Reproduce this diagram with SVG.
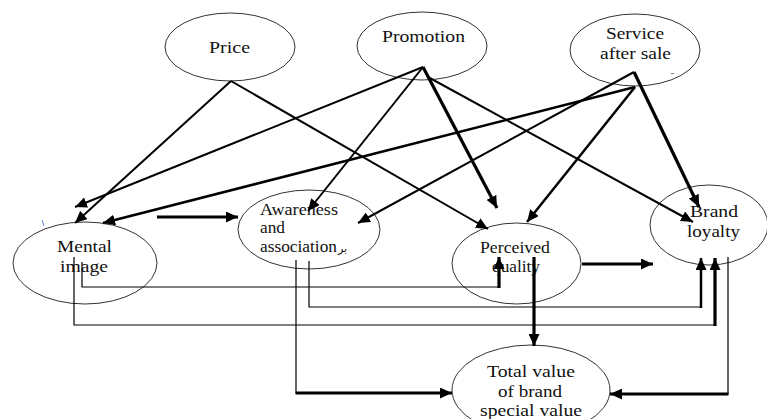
<svg xmlns="http://www.w3.org/2000/svg" width="767" height="419" viewBox="0 0 767 419">
<style>
.node ellipse{fill:#fff;stroke:#333;stroke-width:1}
.node text{font-family:"Liberation Serif","Times New Roman",serif;font-size:17px;fill:#111}
.c{fill:none;stroke:#000;stroke-linecap:butt;stroke-linejoin:miter}
.w2{stroke-width:2}
.w25{stroke-width:2.5}
.w3{stroke-width:3.2}
.w1{stroke-width:1.2}
.arr{marker-end:url(#ah)}
</style>
<defs>
<marker id="ah" markerUnits="userSpaceOnUse" markerWidth="13" markerHeight="11" refX="12" refY="5.5" orient="auto">
<path d="M0,0 L12,5.5 L0,11 z" fill="#000"/>
</marker>
</defs>
<rect width="767" height="419" fill="#fff"/>
<g id="price" class="node">
<ellipse cx="230" cy="47" rx="65" ry="34"/>
<text x="209" y="53" textLength="41" lengthAdjust="spacingAndGlyphs">Price</text>
</g>
<g id="promotion" class="node">
<ellipse cx="422" cy="46" rx="65" ry="34"/>
<text x="382" y="42" textLength="83" lengthAdjust="spacingAndGlyphs">Promotion</text>
</g>
<g id="service" class="node">
<ellipse cx="635" cy="50" rx="65" ry="36"/>
<text x="606" y="39" textLength="58" lengthAdjust="spacingAndGlyphs">Service</text>
<text x="600" y="59" textLength="71" lengthAdjust="spacingAndGlyphs">after sale</text>
<text x="671" y="74" style="font-size:7px">ـ.</text>
</g>
<g id="mental" class="node">
<ellipse cx="85" cy="263" rx="72" ry="41"/>
<text x="57" y="252" textLength="55" lengthAdjust="spacingAndGlyphs">Mental</text>
<text x="60" y="272" textLength="48" lengthAdjust="spacingAndGlyphs">image</text>
<path d="M42,220 q1,3 2,6" fill="none" stroke="#5b86d6" stroke-width="1"/>
</g>
<g id="awareness" class="node">
<ellipse cx="309" cy="229.5" rx="71" ry="39.5"/>
<text x="260" y="215" textLength="78" lengthAdjust="spacingAndGlyphs">Awareness</text>
<text x="260" y="233" textLength="25" lengthAdjust="spacingAndGlyphs">and</text>
<text x="260" y="252" textLength="77" lengthAdjust="spacingAndGlyphs">association</text>
<text x="338" y="252" style="font-family:'DejaVu Sans',sans-serif;font-size:11px">بر</text>
</g>
<g id="perceived" class="node">
<ellipse cx="516.5" cy="263.5" rx="64.5" ry="40.5"/>
<text x="480" y="253" textLength="70" lengthAdjust="spacingAndGlyphs">Perceived</text>
<text x="492" y="272" textLength="48" lengthAdjust="spacingAndGlyphs">quality</text>
</g>
<g id="brand" class="node">
<ellipse cx="709" cy="225" rx="59" ry="40"/>
<text x="690" y="217" textLength="48" lengthAdjust="spacingAndGlyphs">Brand</text>
<text x="687" y="237" textLength="53" lengthAdjust="spacingAndGlyphs">loyalty</text>
</g>
<g id="total" class="node">
<ellipse cx="531" cy="390" rx="79" ry="45"/>
<text x="487" y="377" textLength="88" lengthAdjust="spacingAndGlyphs">Total value</text>
<text x="498" y="397" textLength="64" lengthAdjust="spacingAndGlyphs">of brand</text>
<text x="480" y="416" textLength="102" lengthAdjust="spacingAndGlyphs">special value</text>
</g>
<g id="connectors">
<line class="c w2 arr" x1="231" y1="81" x2="75" y2="223"/>
<line class="c w2 arr" x1="231" y1="81" x2="488" y2="229"/>
<line class="c w2 arr" x1="423" y1="67" x2="75" y2="207"/>
<line class="c w2 arr" x1="423" y1="67" x2="308" y2="211"/>
<line class="c w3 arr" x1="423" y1="67" x2="497" y2="208"/>
<line class="c w2 arr" x1="428" y1="77" x2="693" y2="222"/>
<line class="c w2 arr" x1="634" y1="72" x2="358" y2="223"/>
<line class="c w3 arr" x1="634" y1="72" x2="699" y2="207"/>
<line class="c w25 arr" x1="635" y1="87" x2="103" y2="223"/>
<line class="c w25 arr" x1="635" y1="87" x2="527" y2="222"/>
<line class="c w3 arr" x1="157" y1="217" x2="238" y2="217"/>
<line class="c w3 arr" x1="582" y1="264" x2="653" y2="264"/>
<path class="c w1" d="M82,262 V287 H499"/>
<line class="c w3 arr" x1="499" y1="288" x2="499" y2="257"/>
<path class="c w1" d="M74,257 V325 H715"/>
<line class="c w3 arr" x1="715" y1="326" x2="715" y2="258"/>
<path class="c w1" d="M309,261 V307 H701"/>
<line class="c w25 arr" x1="701" y1="308" x2="701" y2="258"/>
<path class="c w1" d="M296,260 V393"/>
<line class="c w3 arr" x1="295.5" y1="393" x2="452" y2="393"/>
<line class="c w3 arr" x1="534" y1="257" x2="534" y2="346"/>
<path class="c w1" d="M728,257 V394"/>
<line class="c w3 arr" x1="728.5" y1="394" x2="610" y2="394"/>
</g>
</svg>
